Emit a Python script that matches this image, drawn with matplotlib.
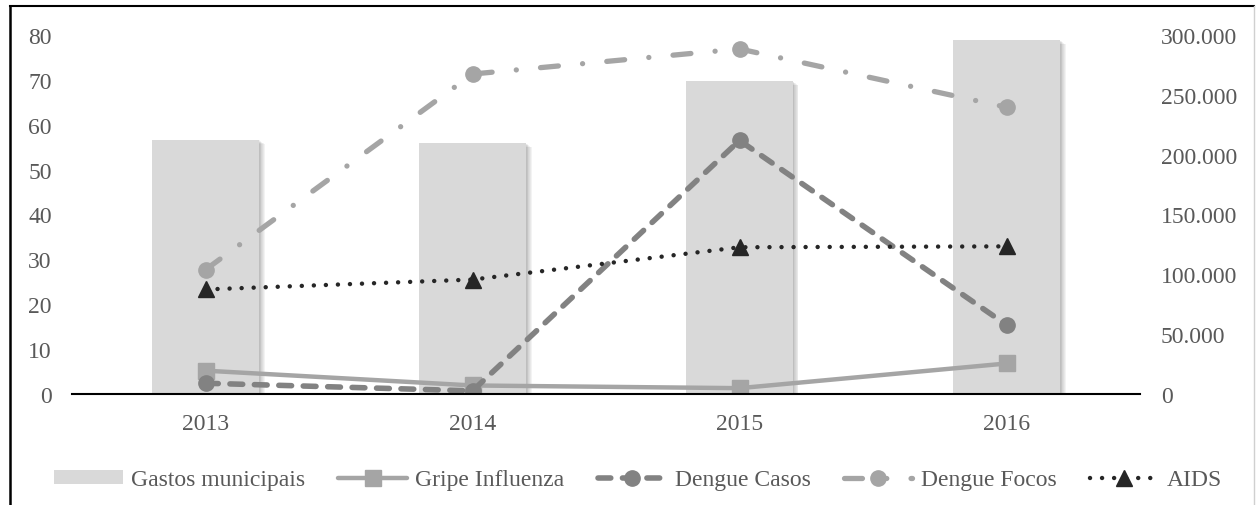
import matplotlib
matplotlib.use("Agg")
import matplotlib.pyplot as plt
from matplotlib.transforms import ScaledTranslation
from matplotlib.lines import Line2D
import numpy as np

years = ["2013", "2014", "2015", "2016"]
gastos = [212500, 209700, 261500, 295800]
gripe = [5.2, 1.9, 1.3, 6.8]
dengue_casos = [2.4, 0.7, 56.5, 15.4]
dengue_focos = [27.7, 71.3, 76.9, 63.9]
aids = [23.3, 25.5, 32.7, 32.9]
left_ticks = [0, 10, 20, 30, 40, 50, 60, 70, 80]
right_ticks = [0, 50000, 100000, 150000, 200000, 250000, 300000]
right_labels = ["0", "50.000", "100.000", "150.000", "200.000", "250.000", "300.000"]

TXT = "#595959"
plt.rcParams['font.family'] = ['Liberation Serif', 'DejaVu Serif']
plt.rcParams['font.size'] = 17

W, H = 1256, 506
fig = plt.figure(figsize=(W / 100, H / 100), dpi=100)
ax = fig.add_axes([72 / W, 1 - 395 / H, (1140 - 72) / W, (395 - 36) / H])
ax2 = ax.twinx()
ax.set_zorder(ax2.get_zorder() + 1)
ax.patch.set_visible(False)

x = np.arange(len(years)) + 0.5

# soft shadows for bars
for i in range(1, 8):
    off = ScaledTranslation(i * 0.8 / 100, -i * 0.6 / 100, fig.dpi_scale_trans)
    ax2.bar(x, gastos, width=0.4, color="#6f6f6f", alpha=0.08,
            transform=ax2.transData + off, zorder=1, linewidth=0)
ax2.bar(x, gastos, width=0.4, color="#d9d9d9", zorder=2, linewidth=0,
        label="Gastos municipais")

ax.plot(x, gripe, color="#a5a5a5", lw=3.2, marker="s", markersize=11,
        label="Gripe Influenza", solid_capstyle="round")
ax.plot(x, dengue_casos, color="#828282", lw=4.0, marker="o", markersize=11,
        dashes=(2.3, 2.1), dash_capstyle="round", label="Dengue Casos")
ax.plot(x, dengue_focos, color="#a5a5a5", lw=3.8, marker="o", markersize=11,
        dashes=(3.4, 4.6, 0.01, 4.6), dash_capstyle="round", label="Dengue Focos")
ax.plot(x, aids, color="#262626", lw=3.2, marker="^", markersize=11,
        dashes=(0.01, 2.7), dash_capstyle="round", label="AIDS")

ax.set_xlim(0, 4)
ax.set_ylim(0, 80)
ax2.set_ylim(0, 300000)
ax.set_yticks(left_ticks)
ax.set_yticklabels([str(t) for t in left_ticks])
ax2.set_yticks(right_ticks)
ax2.set_yticklabels(right_labels)
ax.set_xticks(x)
ax.set_xticklabels(years)

for a in (ax, ax2):
    for s in a.spines.values():
        s.set_visible(False)
ax.tick_params(axis="y", length=0, pad=14.5, colors=TXT)
ax2.tick_params(axis="y", length=0, pad=15, colors=TXT)
ax.tick_params(axis="x", length=0, pad=14, colors=TXT)
ax.axhline(0, color="black", lw=1.5, zorder=5, clip_on=False)

# legend
h1, l1 = ax2.get_legend_handles_labels()
h2, l2 = ax.get_legend_handles_labels()
leg = fig.legend(h1 + h2, l1 + l2, loc="center", bbox_to_anchor=(638 / W, 1 - 481 / H),
                 ncol=5, frameon=False, handlelength=2.9, handleheight=0.55,
                 handletextpad=0.35, columnspacing=1.42, labelcolor=TXT)

# outer frame
fig.add_artist(Line2D([10 / W, 10 / W], [0, 1 - 7 / H], transform=fig.transFigure,
                      color="black", lw=1.8))
fig.add_artist(Line2D([10 / W, 1254 / W], [1 - 7 / H, 1 - 7 / H], transform=fig.transFigure,
                      color="black", lw=1.5))
fig.add_artist(Line2D([1254 / W, 1254 / W], [0, 1 - 7 / H], transform=fig.transFigure,
                      color="#d0d0d0", lw=1.0))

fig.savefig("out.png", dpi=100)
